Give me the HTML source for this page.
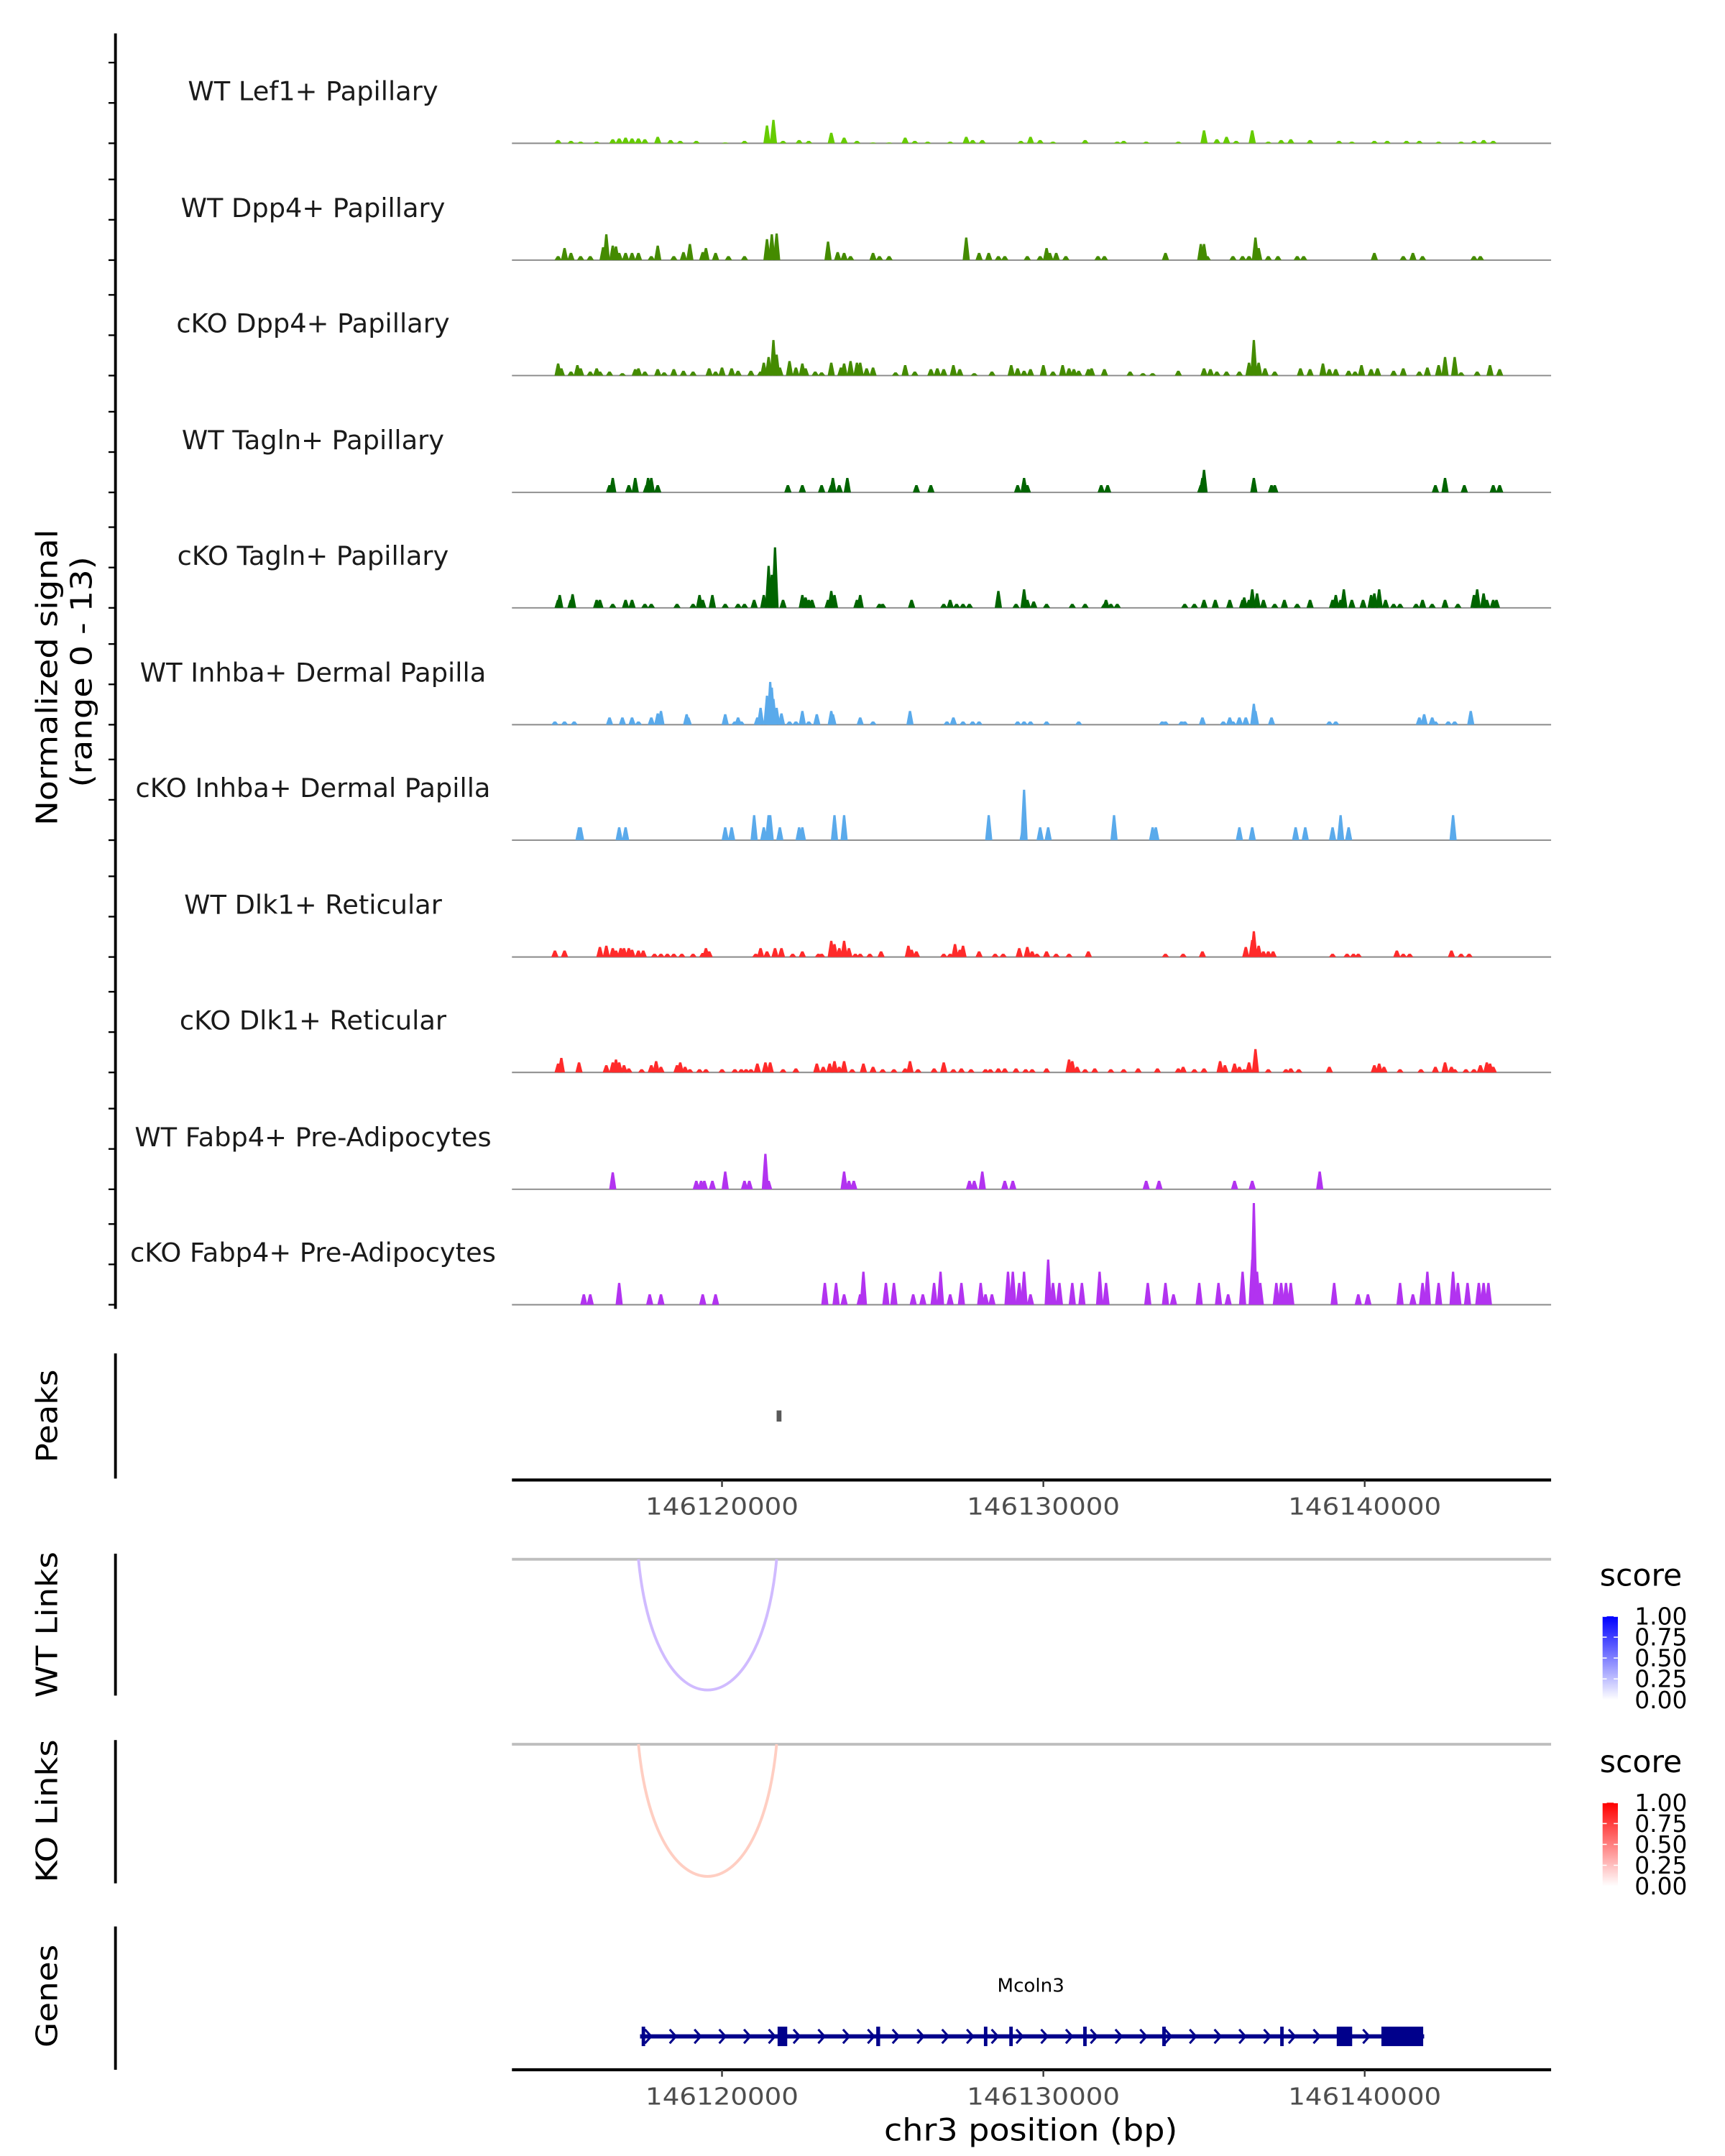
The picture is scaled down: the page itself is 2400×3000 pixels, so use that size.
<!DOCTYPE html>
<html><head><meta charset="utf-8"><title>Coverage plot Mcoln3</title>
<style>html,body{margin:0;padding:0;background:#fff}svg{display:block}text{font-family:"DejaVu Sans","Liberation Sans",sans-serif}</style>
</head><body>
<svg id="chart" width="2400" height="3000" viewBox="0 0 1240 1550" xmlns="http://www.w3.org/2000/svg">
<defs>
<linearGradient id="gBlue" x1="0" y1="0" x2="0" y2="1"><stop offset="0" stop-color="#0000ff"/><stop offset="1" stop-color="#ffffff"/></linearGradient>
<linearGradient id="gRed" x1="0" y1="0" x2="0" y2="1"><stop offset="0" stop-color="#ff0000"/><stop offset="1" stop-color="#ffffff"/></linearGradient>
</defs>
<g id="tracks"></g>
<g id="lower"></g>
</svg>
<script>
// genomic positions in kb (146,100,000 + value*1000); values are normalized signal
const xTicks = [146120000, 146130000, 146140000];
const trackNames = ["WT Lef1+ Papillary","WT Dpp4+ Papillary","cKO Dpp4+ Papillary","WT Tagln+ Papillary","cKO Tagln+ Papillary","WT Inhba+ Dermal Papilla","cKO Inhba+ Dermal Papilla","WT Dlk1+ Reticular","cKO Dlk1+ Reticular","WT Fabp4+ Pre-Adipocytes","cKO Fabp4+ Pre-Adipocytes"];
const trackColors = ["#66cc00","#448b00","#448b00","#006400","#006400","#5aaaeb","#5aaaeb","#ff2a2a","#ff2a2a","#b233f0","#b233f0"];
const wtLef1 = [[114.9,0.4],[115.3,0.3],[115.6,0.2],[116.1,0.2],[116.6,0.5],[116.8,0.6],[117.0,0.7],[117.2,0.6],[117.4,0.6],[117.6,0.5],[118.0,0.8],[118.4,0.4],[118.7,0.3],[119.2,0.3],[120.1,0.1],[120.7,0.3],[121.4,2.2],[121.6,2.9],[121.9,0.3],[122.4,0.4],[122.7,0.3],[123.4,1.3],[123.8,0.7],[124.2,0.3],[124.7,0.1],[125.2,0.1],[125.7,0.7],[126.0,0.3],[126.4,0.2],[127.1,0.2],[127.6,0.8],[127.8,0.4],[128.1,0.4],[129.3,0.3],[129.6,0.8],[129.9,0.4],[130.3,0.2],[131.3,0.4],[132.3,0.2],[132.5,0.3],[133.2,0.2],[134.2,0.2],[135.0,1.6],[135.4,0.5],[135.7,0.8],[136.0,0.3],[136.5,1.6],[137.0,0.2],[137.4,0.4],[137.7,0.5],[138.3,0.4],[139.2,0.3],[139.6,0.2],[140.3,0.3],[140.7,0.3],[141.3,0.3],[141.7,0.3],[142.3,0.2],[143.0,0.2],[143.4,0.3],[143.7,0.4],[144.0,0.3]];
const wtDpp4 = [[114.9,0.5],[115.1,1.5],[115.3,0.9],[115.6,0.5],[115.9,0.5],[116.3,1.6],[116.4,3.2],[116.6,1.8],[116.7,1.7],[116.8,0.9],[117.0,0.9],[117.2,0.9],[117.4,0.9],[117.8,0.5],[118.0,1.8],[118.5,0.5],[118.8,1.0],[119.0,2.0],[119.4,1.0],[119.5,1.5],[119.8,0.9],[120.2,0.5],[120.7,0.5],[121.4,2.6],[121.55,3.2],[121.7,3.3],[123.3,2.3],[123.6,1.0],[123.8,0.9],[124.0,0.5],[124.7,0.9],[124.9,0.5],[125.2,0.5],[127.6,2.8],[128.0,0.9],[128.3,0.9],[128.6,0.5],[128.8,0.5],[129.5,0.5],[129.9,0.5],[130.1,1.5],[130.2,0.9],[130.4,0.9],[130.7,0.5],[131.7,0.5],[131.9,0.5],[133.8,0.9],[134.9,2.0],[135.0,2.0],[135.1,0.5],[135.9,0.5],[136.2,0.5],[136.4,0.5],[136.6,2.8],[136.7,1.5],[137.0,0.5],[137.3,0.5],[137.9,0.5],[138.1,0.5],[140.3,0.9],[141.2,0.5],[141.5,0.9],[141.8,0.5],[143.4,0.5],[143.6,0.5]];
const ckoDpp4 = [[114.9,1.5],[115.0,0.9],[115.3,0.5],[115.5,1.3],[115.6,0.9],[115.9,0.5],[116.1,0.9],[116.2,0.5],[116.5,0.5],[116.9,0.3],[117.3,0.8],[117.4,0.9],[117.6,0.5],[118.0,0.8],[118.2,0.4],[118.5,0.8],[118.8,0.6],[119.1,0.5],[119.6,0.9],[119.8,0.5],[120.0,1.0],[120.3,0.9],[120.5,0.6],[120.9,0.6],[121.2,0.5],[121.3,1.6],[121.45,2.3],[121.6,4.4],[121.7,2.6],[121.8,1.0],[122.1,1.8],[122.3,1.0],[122.5,1.5],[122.6,0.9],[122.9,0.5],[123.1,0.4],[123.4,1.6],[123.7,1.0],[123.8,1.5],[124.0,1.8],[124.2,1.6],[124.3,1.6],[124.5,0.9],[124.7,1.0],[125.4,0.4],[125.7,1.3],[126.0,0.5],[126.5,0.8],[126.7,0.9],[126.9,0.8],[127.2,1.3],[127.4,0.8],[127.85,0.3],[128.4,0.5],[129.0,1.3],[129.2,0.9],[129.4,0.6],[129.6,0.8],[130.0,1.3],[130.3,0.5],[130.6,1.3],[130.8,0.9],[130.95,0.8],[131.1,0.6],[131.4,0.8],[131.5,0.9],[131.9,0.8],[132.7,0.5],[133.1,0.3],[133.4,0.3],[134.2,0.6],[135.0,0.9],[135.2,0.8],[135.4,0.5],[135.7,0.5],[136.1,0.5],[136.4,1.6],[136.55,4.4],[136.7,1.6],[136.9,0.9],[137.2,0.5],[138.0,0.9],[138.3,0.8],[138.7,1.5],[138.9,0.8],[139.1,0.8],[139.5,0.6],[139.7,0.5],[139.9,1.3],[140.2,0.8],[140.4,0.9],[140.9,0.6],[141.2,0.9],[141.7,0.5],[141.95,1.0],[142.3,1.3],[142.5,2.3],[142.8,2.3],[143.0,0.4],[143.5,0.5],[143.9,1.3],[144.2,0.8]];
const wtTagln = [[116.5,0.9],[116.6,1.8],[117.1,0.9],[117.3,1.8],[117.65,0.9],[117.7,1.8],[117.8,1.8],[118.0,0.9],[122.05,0.9],[122.5,0.9],[123.1,0.9],[123.4,0.9],[123.45,1.8],[123.65,0.9],[123.9,1.8],[126.05,0.9],[126.5,0.9],[129.2,0.9],[129.4,1.8],[129.5,0.9],[131.8,0.9],[132.0,0.9],[134.9,0.9],[134.95,1.8],[135.0,2.8],[136.55,1.8],[137.1,0.9],[137.2,0.9],[142.2,0.9],[142.5,1.8],[143.1,0.9],[144.0,0.9],[144.2,0.9]];
const ckoTagln = [[114.9,1.0],[114.95,1.6],[115.3,1.0],[115.35,1.7],[116.1,1.0],[116.2,1.0],[116.6,0.5],[117.0,1.0],[117.2,1.0],[117.6,0.5],[117.8,0.5],[118.6,0.5],[119.1,0.5],[119.3,1.6],[119.4,1.0],[119.7,1.6],[120.1,0.5],[120.5,0.5],[120.7,0.5],[121.0,1.0],[121.3,1.6],[121.45,5.2],[121.55,4.1],[121.65,7.5],[121.9,1.0],[122.5,1.6],[122.6,1.3],[122.7,1.0],[122.8,1.0],[123.3,1.0],[123.4,2.1],[123.5,1.6],[124.2,1.0],[124.3,1.6],[124.9,0.5],[125.0,0.5],[125.9,1.0],[126.9,0.5],[127.1,1.0],[127.3,0.5],[127.5,0.5],[127.7,0.5],[128.6,2.1],[129.15,0.5],[129.4,2.3],[129.5,1.0],[129.7,0.8],[130.1,0.5],[130.9,0.5],[131.3,0.5],[131.9,0.5],[131.95,1.0],[132.1,0.5],[132.3,0.5],[134.4,0.5],[134.7,0.5],[135.0,1.0],[135.35,1.0],[135.8,1.0],[136.2,1.0],[136.25,1.3],[136.4,1.0],[136.5,2.3],[136.65,1.8],[136.85,1.0],[137.2,0.5],[137.5,1.0],[137.9,0.5],[138.3,1.0],[139.0,1.0],[139.1,1.6],[139.25,1.0],[139.35,2.3],[139.6,1.0],[139.95,1.0],[140.2,1.6],[140.3,1.8],[140.45,2.3],[140.65,1.0],[140.9,0.5],[141.1,0.5],[141.6,0.5],[141.8,1.0],[142.1,0.5],[142.5,1.0],[142.9,0.5],[143.4,1.6],[143.5,2.3],[143.7,1.8],[143.8,1.0],[144.0,1.0],[144.1,1.0]];
const wtInhba = [[114.8,0.4],[115.1,0.4],[115.4,0.4],[116.5,0.9],[116.9,0.9],[117.2,0.9],[117.4,0.4],[117.8,0.9],[118.0,1.4],[118.1,1.7],[118.9,1.3],[118.95,0.9],[120.1,1.3],[120.4,0.4],[120.5,0.9],[120.6,0.4],[121.1,0.9],[121.2,2.1],[121.4,3.6],[121.5,5.3],[121.55,4.6],[121.6,3.2],[121.7,2.1],[121.85,1.4],[122.1,0.4],[122.3,0.4],[122.5,1.7],[122.7,0.4],[122.95,1.3],[123.4,1.7],[123.45,1.3],[124.3,0.9],[124.7,0.4],[125.85,1.7],[127.0,0.4],[127.2,0.9],[127.5,0.4],[127.8,0.4],[128.0,0.4],[129.2,0.4],[129.4,0.4],[129.6,0.4],[130.1,0.4],[131.1,0.4],[133.7,0.4],[133.8,0.4],[134.3,0.4],[134.4,0.4],[134.95,0.9],[135.6,0.4],[135.8,0.9],[135.9,0.4],[136.1,0.9],[136.3,0.9],[136.55,2.6],[136.6,1.7],[137.1,0.9],[138.9,0.4],[139.1,0.4],[141.7,0.9],[141.85,1.3],[142.1,0.9],[142.2,0.4],[142.6,0.4],[142.8,0.4],[143.3,1.7]];
const ckoInhba = [[115.55,1.6],[115.6,1.6],[116.8,1.6],[117.0,1.6],[120.1,1.6],[120.3,1.6],[121.0,3.1],[121.3,1.6],[121.45,3.1],[121.5,3.1],[121.8,1.6],[122.4,1.6],[122.5,1.6],[123.5,3.1],[123.8,3.1],[128.3,3.1],[129.37,1.6],[129.4,6.25],[129.9,1.6],[130.15,1.6],[132.2,3.1],[133.4,1.6],[133.5,1.6],[136.1,1.6],[136.5,1.6],[137.85,1.6],[138.15,1.6],[139.0,1.6],[139.25,3.1],[139.5,1.6],[142.75,3.1]];
const wtDlk1 = [[114.8,0.8],[115.1,0.8],[116.2,1.25],[116.4,1.4],[116.6,1.1],[116.7,0.8],[116.85,1.1],[116.95,1.1],[117.1,1.1],[117.2,0.9],[117.4,0.8],[117.55,0.8],[117.9,0.4],[118.1,0.4],[118.3,0.4],[118.5,0.4],[118.75,0.4],[119.1,0.4],[119.4,0.5],[119.5,1.1],[119.6,0.7],[121.05,0.4],[121.2,1.1],[121.4,0.7],[121.65,1.1],[121.85,1.1],[122.2,0.4],[122.5,0.7],[123.0,0.4],[123.1,0.4],[123.4,2.0],[123.5,1.6],[123.65,1.1],[123.8,2.0],[123.95,1.1],[124.15,0.4],[124.3,0.4],[124.6,0.4],[124.95,0.7],[125.8,1.4],[125.9,0.9],[126.05,0.7],[126.9,0.4],[127.1,0.4],[127.25,1.6],[127.4,0.9],[127.5,1.4],[128.0,0.7],[128.5,0.4],[128.75,0.4],[129.25,1.1],[129.5,1.25],[129.65,0.7],[129.8,0.4],[130.1,0.7],[130.4,0.4],[130.8,0.4],[131.4,0.7],[133.8,0.4],[134.35,0.4],[134.95,0.7],[136.3,1.25],[136.5,2.1],[136.55,3.2],[136.7,1.4],[136.85,0.7],[137.0,0.7],[137.15,0.7],[139.0,0.4],[139.45,0.4],[139.65,0.4],[139.8,0.4],[141.0,0.8],[141.2,0.4],[141.4,0.4],[142.7,0.8],[143.0,0.4],[143.25,0.4]];
const ckoDlk1 = [[114.9,1.1],[115.0,1.8],[115.55,1.25],[116.4,0.9],[116.6,1.25],[116.7,1.6],[116.8,1.25],[116.95,0.9],[117.1,0.5],[117.5,0.4],[117.8,0.9],[117.95,1.4],[118.1,0.7],[118.6,0.9],[118.7,1.25],[118.85,0.7],[119.0,0.4],[119.3,0.4],[119.5,0.4],[120.0,0.4],[120.4,0.4],[120.6,0.4],[120.75,0.4],[120.9,0.4],[121.1,1.1],[121.35,1.25],[121.5,1.25],[121.9,0.4],[122.3,0.5],[122.95,1.1],[123.15,0.7],[123.35,1.1],[123.5,1.4],[123.65,0.7],[123.8,1.4],[124.05,0.4],[124.4,1.1],[124.7,0.7],[125.0,0.4],[125.35,0.4],[125.7,0.5],[125.85,1.4],[126.1,0.4],[126.6,0.5],[126.9,1.25],[127.2,0.4],[127.45,0.5],[127.75,0.4],[128.2,0.4],[128.35,0.4],[128.6,0.5],[128.8,0.5],[129.15,0.5],[129.45,0.4],[129.65,0.4],[130.1,0.5],[130.8,1.6],[130.9,1.4],[131.05,0.7],[131.3,0.4],[131.6,0.5],[132.1,0.4],[132.5,0.4],[132.95,0.5],[133.55,0.5],[134.2,0.5],[134.35,0.7],[134.7,0.4],[135.0,0.5],[135.5,1.4],[135.65,0.9],[135.95,1.1],[136.1,0.7],[136.25,0.4],[136.4,1.25],[136.6,2.9],[137.0,0.4],[137.55,0.4],[137.7,0.5],[137.95,0.4],[138.9,0.7],[140.3,0.9],[140.45,1.1],[140.6,0.7],[141.1,0.4],[141.75,0.4],[142.2,0.7],[142.5,1.25],[142.7,0.7],[142.8,0.4],[143.15,0.4],[143.4,0.4],[143.6,0.9],[143.8,1.25],[143.9,1.1],[144.0,0.7]];
const wtFabp4 = [[116.6,2.1],[119.2,1.06],[119.35,1.06],[119.45,1.06],[119.7,1.06],[120.1,2.2],[120.7,1.06],[120.85,1.06],[121.35,4.4],[121.45,1.06],[123.8,2.2],[123.95,1.06],[124.1,1.06],[127.7,1.06],[127.85,1.06],[128.1,2.2],[128.8,1.06],[129.05,1.06],[133.2,1.06],[133.6,1.06],[135.95,1.06],[136.5,1.06],[138.6,2.2]];
const ckoFabp4 = [[115.7,1.3],[115.9,1.3],[116.8,2.7],[117.75,1.3],[118.1,1.3],[119.4,1.3],[119.8,1.3],[123.2,2.7],[123.55,2.7],[123.8,1.3],[124.3,1.3],[124.4,4.1],[125.1,2.7],[125.35,2.7],[125.95,1.3],[126.25,1.3],[126.6,2.7],[126.8,4.1],[127.1,1.3],[127.45,2.7],[128.05,2.7],[128.2,1.3],[128.4,1.3],[128.9,4.1],[129.05,4.1],[129.25,2.7],[129.4,4.1],[129.6,1.3],[130.15,5.6],[130.3,2.7],[130.5,2.7],[130.9,2.7],[131.2,2.7],[131.75,4.1],[131.95,2.7],[133.25,2.7],[133.8,2.7],[134.05,1.3],[134.85,2.7],[135.45,2.7],[135.75,1.3],[136.2,4.1],[136.5,5.6],[136.55,12.6],[136.65,4.1],[136.75,2.7],[137.25,2.7],[137.4,2.7],[137.55,2.7],[137.7,2.7],[139.05,2.7],[139.8,1.3],[140.1,1.3],[141.1,2.7],[141.5,1.3],[141.8,2.7],[141.95,4.1],[142.3,2.7],[142.75,4.1],[142.9,2.7],[143.2,2.7],[143.55,2.7],[143.7,2.7],[143.85,2.7]];
const trackData = [wtLef1, wtDpp4, ckoDpp4, wtTagln, ckoTagln, wtInhba, ckoInhba, wtDlk1, ckoDlk1, wtFabp4, ckoFabp4];
const peakRegions = [[121.7, 121.85]];
const wtLinks = [[117.4, 121.7, 0.35]];
const koLinks = [[117.4, 121.7, 0.3]];
const geneName = "Mcoln3";
const geneSpan = [117.45, 141.85];
const geneExons = [[117.5,117.6],[121.73,122.03],[124.8,124.92],[128.15,128.22],[128.94,129.0],[131.24,131.3],[133.7,133.78],[137.37,137.44],[139.13,139.61],[140.52,141.82]];
const legendTicks = [0, 0.25, 0.5, 0.75, 1];

const NS = "http://www.w3.org/2000/svg";
const X0 = 368, X1 = 1115, KB0 = 113.463, PXKB = 23.1, UNIT = 5.8;
function xs(kb){ return X0 + (kb - KB0) * PXKB; }
function mk(tag, attrs, parent, txt){
  const e = document.createElementNS(NS, tag);
  for (const k in attrs) e.setAttribute(k, attrs[k]);
  if (txt !== undefined) e.textContent = txt;
  parent.appendChild(e); return e;
}
const svg = document.getElementById('chart');
const gT = document.getElementById('tracks');
const gL = document.getElementById('lower');

let ax = mk('line', {x1:83, y1:24, x2:83, y2:941, stroke:'#000', 'stroke-width':2}, gT);



const baselines = [103,187,270,354,437,521,604,688,771,855,938];
trackNames.forEach((name, i) => {
  const b = baselines[i];
  const g = mk('g', {}, gT);
  
  
  [0,5,10].forEach(v => {
    const t = mk('line', {x1:78, x2:83, y1:b - v*UNIT, y2:b - v*UNIT, stroke:'#000', 'stroke-width':1.2}, g);
    
    
  });
  const lab = mk('text', {x:225, y:b-31, 'text-anchor':'middle', 'font-size':19, fill:'#1a1a1a'}, g, name);
  
  
  const bl = mk('line', {x1:X0, x2:X1, y1:b, y2:b, stroke:'#8a8a8a', 'stroke-width':1}, g);
  
  
  trackData[i].forEach(p => {
    const x = xs(p[0]), h = p[1]*UNIT;
    const poly = mk('polygon', {points:`${x-2.6},${b} ${x-0.8},${b-h} ${x+0.8},${b-h} ${x+2.6},${b}`, fill:trackColors[i]}, g);
    
    
  });
});
let yt = mk('text', {transform:'translate(41,487) rotate(-90)', 'text-anchor':'middle', 'font-size':21, fill:'#000', textLength:213, lengthAdjust:'spacingAndGlyphs'}, gT, 'Normalized signal');


let yt2 = mk('text', {transform:'translate(66,483) rotate(-90)', 'text-anchor':'middle', 'font-size':21, fill:'#000', textLength:166, lengthAdjust:'spacingAndGlyphs'}, gT, '(range 0 - 13)');



function sideLabel(txt, cy, len, name){
  const t = mk('text', {transform:`translate(41,${cy}) rotate(-90)`, 'text-anchor':'middle', 'font-size':21, fill:'#000', textLength:len, lengthAdjust:'spacingAndGlyphs'}, gL, txt);
  
  
}
function sideAxis(y1, y2, name){
  const l = mk('line', {x1:83, x2:83, y1:y1, y2:y2, stroke:'#000', 'stroke-width':2}, gL);
  
  
}
sideLabel('Peaks', 1018, 67, 'peaks-label'); sideAxis(973, 1063, 'peaks-axis');
sideLabel('WT Links', 1168, 105, 'wt-links-label'); sideAxis(1117, 1219, 'wt-links-axis');
sideLabel('KO Links', 1302, 103, 'ko-links-label'); sideAxis(1251, 1354, 'ko-links-axis');
sideLabel('Genes', 1435, 74, 'genes-label'); sideAxis(1385, 1488, 'genes-axis');

peakRegions.forEach(p => {
  const r = mk('rect', {x:xs(p[0]), y:1014, width:Math.max(3, xs(p[1])-xs(p[0])), height:8, fill:'#595959'}, gL);
  
  
});

function xAxis(y, labY, name){
  const g = mk('g', {}, gL);
  
  
  mk('line', {x1:X0, x2:X1, y1:y, y2:y, stroke:'#000', 'stroke-width':2.2}, g);
  xTicks.forEach(t => {
    const x = xs(t/1000 - 146000);
    mk('line', {x1:x, x2:x, y1:y, y2:y+5, stroke:'#333', 'stroke-width':1.2}, g);
    const lab = mk('text', {x:x, y:labY, 'text-anchor':'middle', 'font-size':17, fill:'#4d4d4d', textLength:110, lengthAdjust:'spacingAndGlyphs'}, g, String(t));
    
    
  });
}
xAxis(1064, 1089, 'peaks-x-axis');

function mix(c, s){
  const r = Math.round(255 + (c[0]-255)*s), g = Math.round(255 + (c[1]-255)*s), b = Math.round(255 + (c[2]-255)*s);
  return `rgb(${r},${g},${b})`;
}
function linkPanel(links, base, depth, col, name){
  const g = mk('g', {}, gL);
  
  
  mk('line', {x1:X0, x2:X1, y1:base, y2:base, stroke:'#bebebe', 'stroke-width':2}, g);
  links.forEach(l => {
    const a = xs(l[0]), b = xs(l[1]), w = b - a, cy = base + depth/0.75;
    const p = mk('path', {d:`M${a},${base} C${a+w*0.12},${cy} ${b-w*0.12},${cy} ${b},${base}`, fill:'none', stroke:mix(col, l[2]), 'stroke-width':2}, g);
    
    
  });
}
linkPanel(wtLinks, 1121, 94, [120,60,255], 'wt-links-panel');
linkPanel(koLinks, 1254, 95, [255,90,50], 'ko-links-panel');

function legend(top, grad, name){
  const g = mk('g', {}, gL);
  
  
  mk('text', {x:1150, y:top, 'font-size':22, fill:'#000'}, g, 'score');
  const by = top + 22, bh = 60;
  mk('rect', {x:1152, y:by, width:11, height:bh, fill:`url(#${grad})`}, g);
  legendTicks.forEach(v => {
    const y = by + bh*(1 - v);
    mk('line', {x1:1152, x2:1155, y1:y, y2:y, stroke:'#fff', 'stroke-width':0.8}, g);
    mk('line', {x1:1160, x2:1163, y1:y, y2:y, stroke:'#fff', 'stroke-width':0.8}, g);
    mk('text', {x:1175, y:y+6, 'font-size':17, fill:'#000'}, g, v.toFixed(2));
  });
}
legend(1140, 'gBlue', 'wt-score-legend');
legend(1274, 'gRed', 'ko-score-legend');

const gg = mk('g', {}, gL);


const gy = 1464, gcol = '#00008b';
const gn = mk('text', {x:741, y:1432, 'text-anchor':'middle', 'font-size':13.5, fill:'#000'}, gg, geneName);


mk('line', {x1:xs(geneSpan[0]), x2:xs(geneSpan[1]), y1:gy, y2:gy, stroke:gcol, 'stroke-width':3}, gg);
for (let x = xs(geneSpan[0]) + 6; x < xs(geneSpan[1]) - 4; x += 17.8) {
  mk('polyline', {points:`${x-2.5},${gy-5} ${x+2},${gy} ${x-2.5},${gy+5}`, fill:'none', stroke:gcol, 'stroke-width':1.6}, gg);
}
geneExons.forEach(e => {
  const a = xs(e[0]), b = xs(e[1]);
  const r = mk('rect', {x:a, y:gy-7, width:Math.max(2.5, b-a), height:14, fill:gcol}, gg);
  
  
});
xAxis(1488, 1513, 'genes-x-axis');
const xt = mk('text', {x:741, y:1539, 'text-anchor':'middle', 'font-size':22, fill:'#000', textLength:211, lengthAdjust:'spacingAndGlyphs'}, gL, 'chr3 position (bp)');


</script>
</body></html>
